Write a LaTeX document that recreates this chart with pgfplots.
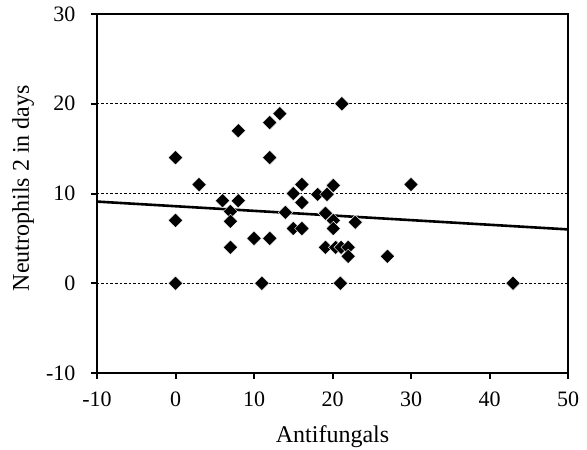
\documentclass[border=0pt]{standalone}
\usepackage{fontspec}
\setmainfont{Liberation Serif}
\usepackage{pgfplots}
\pgfplotsset{compat=1.18}

\begin{document}
\begin{tikzpicture}[font=\fontsize{22}{26}\selectfont]
\begin{axis}[
  scale only axis,
  width=471pt, height=359pt,
  xmin=-10, xmax=50, ymin=-10, ymax=30,
  xtick={-10,0,10,20,30,40,50},
  xticklabels={-10,0,10,20,30,40,50},
  ytick={-10,0,10,20,30},
  yticklabels={-10,0,10,20,30},
  xtick pos=left, ytick pos=left,
  tick align=outside,
  major tick length=6pt,
  axis line style={line width=2pt},
  every tick/.style={line width=2pt, black},
  ymajorgrids,
  grid style={black, line width=0.6pt, dash pattern=on 2.5pt off 2pt},
  tick label style={font=\fontsize{22}{26}\selectfont},
  label style={font=\fontsize{24}{28}\selectfont, inner sep=0pt},
  xticklabel style={yshift=-9pt},
  yticklabel style={xshift=-12pt},
  xlabel={Antifungals},
  ylabel={Neutrophils 2 in days},
  xlabel style={at={(axis description cs:0.5,-0.193)}, anchor=base},
  ylabel style={at={(axis description cs:-0.157,0.515)}, anchor=center},
]
\addplot[only marks, mark=square*, mark size=5.1pt,
  mark options={rotate=45, fill=black, draw=white, line width=0.4pt}] coordinates {
  (0,14) (0,7) (0,0)
  (3,11)
  (6,9.2) (8,9.2)
  (7,8) (7,6.9) (7,4)
  (8,17)
  (10,5)
  (11,0)
  (12,17.9) (13.3,18.9) (12,14) (12,5)
  (14,7.9)
  (15,10) (16.1,11) (16.1,9)
  (15,6.1) (16.1,6.1)
  (18.1,9.9) (19.3,9.9) (20.1,10.9)
  (19.1,7.8) (20.1,7) (20.1,6.1)
  (19.1,4) (20.4,4) (21.1,4) (22,4)
  (22,3)
  (21,0)
  (21.2,20)
  (22.9,6.8)
  (27,3)
  (30,11)
  (43,0)
};
\addplot[black, line width=2.6pt] coordinates {(-10,9.1) (50,6.0)};
\end{axis}
\pgfresetboundingbox
\path ([xshift=-97pt,yshift=-76pt]current axis.south west) rectangle ([xshift=19pt,yshift=14pt]current axis.north east);
\end{tikzpicture}
\end{document}
